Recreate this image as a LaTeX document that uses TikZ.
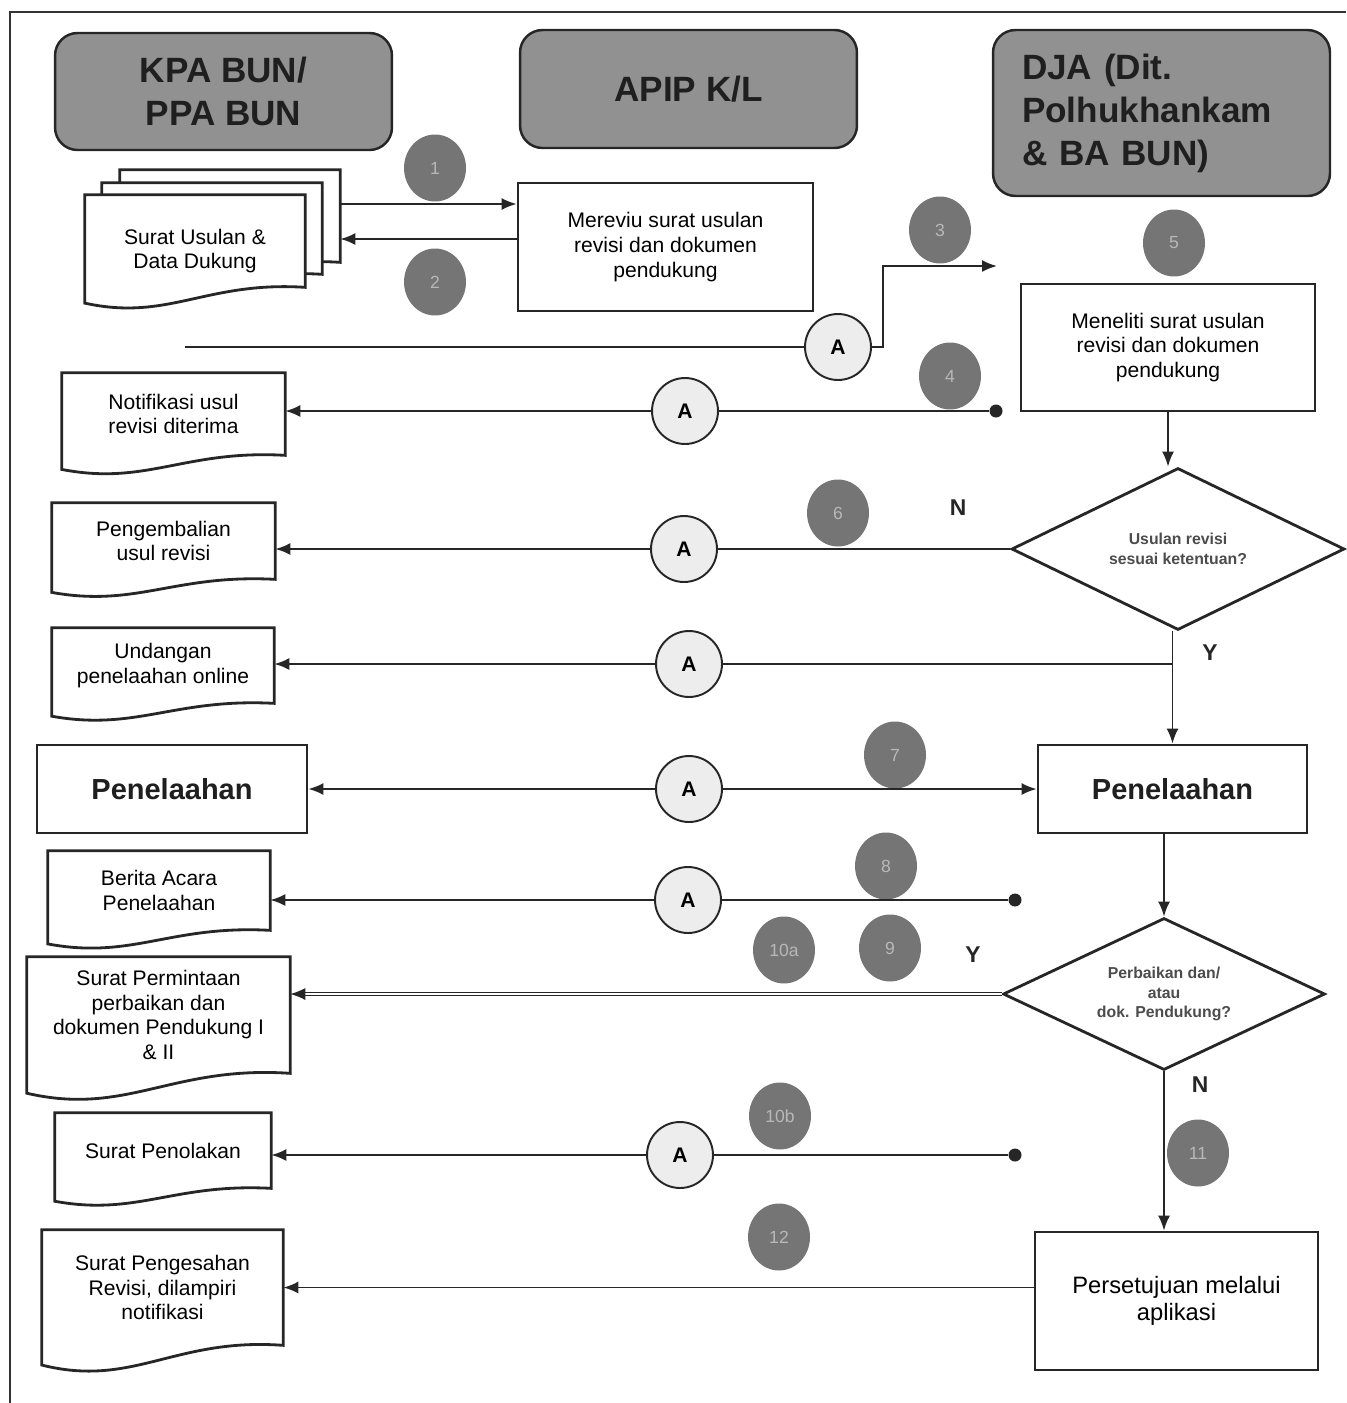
\documentclass[tikz,border=0pt]{standalone}
\usepackage{fontspec}
\setmainfont{Liberation Sans}
\usetikzlibrary{shapes,arrows.meta,calc,backgrounds}
\tikzstyle{head}=[draw=black!85,line width=1.4pt,rounded corners=0.45cm,fill=black!43,
text=black!88,minimum width=6.74cm,font=\fontsize{20}{24.5}\selectfont\bfseries,align=center]
\tikzstyle{proc}=[draw=black!85,line width=1.6pt,fill=white,align=center,
font=\fontsize{12}{14}\selectfont]
\tikzstyle{big}=[font=\fontsize{16.5}{19}\selectfont\bfseries,text=black!88]
\tikzstyle{docu}=[inner sep=2pt,align=center,font=\fontsize{12}{14}\selectfont,
append after command={\pgfextra{\begin{pgfonlayer}{background}
\draw[draw=black!85,line width=1.6pt,fill=white] let \p1=(\tikzlastnode.south west),\p2=(\tikzlastnode.north east) in
(\x1,\y2) -- (\x2,\y2) -- (\x2,\y1)
.. controls ({\x1+0.55*(\x2-\x1)},{\y1+0.07*(\y2-\y1)}) and ({\x1+0.38*(\x2-\x1)},{\y1-0.37*(\y2-\y1)})
.. (\x1,{\y1-0.17*(\y2-\y1)}) -- cycle;
\end{pgfonlayer}}}]
\tikzstyle{conA}=[circle,draw=black!85,line width=1.1pt,fill=black!7,minimum size=1.32cm,
inner sep=0pt,font=\fontsize{12}{14}\selectfont\bfseries]
\tikzstyle{num}=[ellipse,fill=black!54,minimum width=1.24cm,minimum height=1.34cm,
inner sep=0pt,text=black!28,font=\fontsize{10}{12}\selectfont]
\tikzstyle{dec}=[diamond,aspect=2,draw=black!85,line width=1.6pt,fill=white,inner sep=0pt,align=center,
text=black!70,font=\fontsize{9}{11.2}\selectfont\bfseries]
\tikzstyle{dotend}=[circle,fill=black!85,inner sep=0pt,minimum size=0.26cm]
\tikzstyle{wire}=[line width=1.1pt,draw=black!85]
\tikzstyle{conn}=[wire,-{Latex[length=0.3cm,width=0.24cm]}]
\tikzstyle{yn}=[font=\fontsize{13}{15}\selectfont\bfseries,text=black!85]

\begin{document}
\begin{tikzpicture}[x=0.02cm,y=-0.02cm]
        \useasboundingbox (0,0) rectangle (1346,1403);
        \draw[line width=0.9pt,black!80] (1346,12) -- (10,12) -- (10,1403);
        % lanes
        \node [head,minimum height=2.34cm] (kpa) at (223.5,91.5) {KPA BUN/\\PPA BUN};
        \node [head,minimum height=2.36cm] (apip) at (688.5,89) {APIP K/L};
        \node [head,minimum height=3.32cm,text width=5.58cm,align=left] (dja) at (1161.5,113) {DJA (Dit.\\Polhukhankam\\\& BA BUN)};
        % documents and steps
        \node [docu,minimum width=4.4cm,minimum height=1.84cm] (stk3) at (230,216) {};
        \node [docu,minimum width=4.4cm,minimum height=1.82cm] (stk2) at (212,228.5) {};
        \node [docu,minimum width=4.4cm,minimum height=1.84cm] (usul) at (195,241) {\rule{0pt}{20pt}Surat Usulan \&\\Data Dukung};
        \node [proc,minimum width=5.9cm,minimum height=2.56cm] (mrv) at (665.5,247) {Mereviu surat usulan\\revisi dan dokumen\\pendukung};
        \node [proc,minimum width=5.88cm,minimum height=2.54cm] (mnl) at (1168,347.5) {Meneliti surat usulan\\revisi dan dokumen\\pendukung};
        \node [docu,minimum width=4.46cm,minimum height=1.64cm] (notif) at (173.5,414) {Notifikasi usul\\revisi diterima};
        \node [dec,minimum width=6.66cm,minimum height=3.24cm] (dia1) at (1178,549) {Usulan revisi\\sesuai ketentuan?};
        \node [docu,minimum width=4.46cm,minimum height=1.52cm] (kembali) at (163.5,541) {Pengembalian\\usul revisi};
        \node [docu,minimum width=4.44cm,minimum height=1.5cm] (undang) at (163,665.5) {Undangan\\penelaahan online};
        \node [proc,big,minimum width=5.4cm,minimum height=1.76cm] (penL) at (172,789) {Penelaahan};
        \node [proc,big,minimum width=5.38cm,minimum height=1.76cm] (penR) at (1172.5,789) {Penelaahan};
        \node [docu,minimum width=4.44cm,minimum height=1.58cm] (berita) at (159,890.5) {Berita Acara\\Penelaahan};
        \node [dec,minimum width=6.44cm,minimum height=3.04cm] (dia2) at (1164,994) {Perbaikan dan/\\atau\\dok. Pendukung?};
        \node [docu,minimum width=5.26cm,minimum height=2.32cm] (minta) at (158.5,1015) {Surat Permintaan\\perbaikan dan\\dokumen Pendukung I\\\& II};
        \node [docu,minimum width=4.32cm,minimum height=1.5cm] (tolak) at (163,1150.5) {Surat Penolakan};
        \node [proc,minimum width=5.66cm,minimum height=2.76cm,font=\fontsize{13.5}{15.5}\selectfont] (pers) at (1176.5,1301) {Persetujuan melalui\\aplikasi};
        \node [docu,minimum width=4.82cm,minimum height=2.3cm] (sah) at (162.5,1287.5) {Surat Pengesahan\\Revisi, dilampiri\\notifikasi};
        % connectors A
        \node [conA] (aUsul) at (838,347) {A};
        \node [conA] (aNotif) at (685,411) {A};
        \node [conA] (aKembali) at (684,549) {A};
        \node [conA] (aUndang) at (689,664) {A};
        \node [conA] (aPen) at (689,789) {A};
        \node [conA] (aBerita) at (688,900) {A};
        \node [conA] (aTolak) at (680,1155) {A};
        \node [dotend] (d4) at (996,411) {};
        \node [dotend] (d8) at (1015,900) {};
        \node [dotend] (d10) at (1015,1155) {};
        \coordinate (s3) at (185,347);
        \coordinate (t3) at (997,266);
        % step numbers
        \node [num] (n1) at (435,168) {1};
        \node [num] (n2) at (435,282) {2};
        \node [num] (n3) at (940,230) {3};
        \node [num] (n4) at (950,376) {4};
        \node [num] (n5) at (1174,243) {5};
        \node [num] (n6) at (838,513) {6};
        \node [num] (n7) at (895,755) {7};
        \node [num] (n8) at (886,866) {8};
        \node [num] (n9) at (890,948) {9};
        \node [num] (n10a) at (784,950) {10a};
        \node [num] (n10b) at (780,1116) {10b};
        \node [num] (n11) at (1198,1153) {11};
        \node [num] (n12) at (779,1237) {12};
        \node [yn] (lN1) at (958,508) {N};
        \node [yn] (lY1) at (1210,653) {Y};
        \node [yn] (lY2) at (973,955) {Y};
        \node [yn] (lN2) at (1200,1085) {N};
        % arrows
        \draw [conn] ([yshift=0.24cm]stk3.east) -- ([yshift=0.24cm]stk3.east -| mrv.west);
        \draw [conn] ([yshift=0.16cm]mrv.west) -- ([yshift=0.16cm]mrv.west -| stk3.east);
        \draw [wire] (s3) -- (aUsul);
        \draw [conn] (aUsul.east) -| ([xshift=-2.28cm]t3) -- (t3);
        \draw [wire] (d4) -- (aNotif);
        \draw [conn] (aNotif) -- (aNotif -| notif.east);
        \draw [conn] (mnl.south) -- (mnl.south |- dia1.north);
        \draw [wire] (dia1.west) -- (aKembali);
        \draw [conn] (aKembali) -- (aKembali -| kembali.east);
        \draw [conn] (dia1.south -| penR.north) -- (penR.north);
        \draw [wire] (aUndang -| penR.north) -- (aUndang);
        \draw [conn] (aUndang) -- (aUndang -| undang.east);
        \draw [conn] (aPen) -- (penL);
        \draw [conn] (aPen) -- (penR);
        \draw [conn] (penR.south -| dia2.north) -- (dia2.north);
        \draw [wire] (d8) -- (aBerita);
        \draw [conn] (aBerita) -- (aBerita -| berita.east);
        \draw [conn,line width=0.6pt,double,double distance=1.3pt] (dia2.west) -- (dia2.west -| minta.east);
        \draw [conn] (dia2.south) -- (dia2.south |- pers.north);
        \draw [wire] (d10) -- (aTolak);
        \draw [conn] (aTolak) -- (aTolak -| tolak.east);
        \draw [conn] (pers.west |- sah.east) -- (sah.east);
    \end{tikzpicture}
\end{document}
